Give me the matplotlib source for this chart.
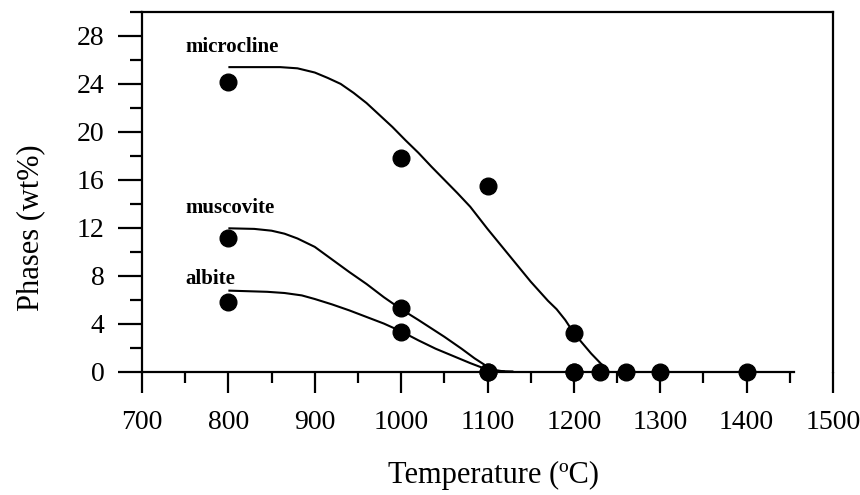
import matplotlib
matplotlib.use("Agg")
import matplotlib.pyplot as plt
from matplotlib.ticker import MultipleLocator

plt.rcParams['font.family'] = ['Liberation Serif', 'DejaVu Serif']

# Measured points
micro_T = [800, 1000, 1100, 1200, 1230, 1260, 1300, 1400]
micro_v = [24.2, 17.8, 15.5, 3.2, 0, 0, 0, 0]
musc_T = [800, 1000, 1100, 1200]
musc_v = [11.1, 5.3, 0, 0]
albite_T = [800, 1000, 1100, 1200]
albite_v = [5.8, 3.3, 0, 0]

# Fitted curves
micro_fit_T = [800, 860, 880, 900, 915, 930, 945, 960, 975, 990, 1005, 1020, 1035,
               1050, 1065, 1080, 1100, 1125, 1150, 1170, 1180, 1190, 1200, 1220, 1240]
micro_fit_v = [25.4, 25.4, 25.3, 24.95, 24.5, 24.0, 23.25, 22.4, 21.4, 20.4, 19.3, 18.25, 17.1,
               16.0, 14.9, 13.75, 11.9, 9.7, 7.5, 5.9, 5.2, 4.3, 3.2, 1.5, 0.0]
musc_fit_T = [800, 830, 850, 865, 880, 900, 920, 940, 960, 980, 1000, 1020, 1035, 1050,
              1070, 1085, 1100, 1110, 1120]
musc_fit_v = [11.95, 11.9, 11.75, 11.5, 11.1, 10.4, 9.35, 8.3, 7.3, 6.2, 5.2, 4.3, 3.6, 2.9,
              1.9, 1.1, 0.4, 0.1, 0.0]
albite_fit_T = [800, 845, 865, 885, 900, 920, 940, 960, 980, 1000, 1020, 1040, 1060, 1080,
                1100, 1115, 1130]
albite_fit_v = [6.75, 6.65, 6.55, 6.35, 6.05, 5.6, 5.1, 4.55, 4.0, 3.35, 2.6, 1.9, 1.3, 0.7,
                0.15, 0.03, 0.0]

labels = ['microcline', 'muscovite', 'albite']
label_y = [26.7, 13.2, 7.3]

fig = plt.figure(figsize=(8.6, 4.95), dpi=100)
ax = fig.add_axes([142/860, 1-371.5/495, 691/860, 359.5/495])

lw = 1.5
for T, v in [(micro_fit_T, micro_fit_v), (musc_fit_T, musc_fit_v), (albite_fit_T, albite_fit_v)]:
    ax.plot(T, v, color='black', lw=lw, solid_capstyle='butt', solid_joinstyle='round', zorder=2)

for T, v in [(micro_T, micro_v), (musc_T, musc_v), (albite_T, albite_v)]:
    ax.plot(T, v, 'o', color='black', ms=12, zorder=3, clip_on=False)

for lab, y in zip(labels, label_y):
    ax.text(750, y, lab, fontsize=15, fontweight='bold', ha='left', va='baseline')

ax.set_xlim(700, 1500)
ax.set_ylim(0, 30)
ax.spines['bottom'].set_bounds(700, 1455)
for s in ax.spines.values():
    s.set_linewidth(1.6)

ax.xaxis.set_major_locator(MultipleLocator(100))
ax.xaxis.set_minor_locator(MultipleLocator(50))
ax.yaxis.set_major_locator(MultipleLocator(4))
ax.yaxis.set_minor_locator(MultipleLocator(2))
ax.set_yticks(range(0, 29, 4))

ax.tick_params(axis='x', which='major', direction='out', length=15, width=1.6, labelsize=20, pad=13)
ax.tick_params(axis='x', which='minor', direction='out', length=8, width=1.6)
ax.tick_params(axis='y', which='major', direction='out', length=17, width=1.6, labelsize=20, pad=10)
ax.tick_params(axis='y', which='minor', direction='out', length=8.5, width=1.6)

ax.set_xlabel('Temperature (ºC)', fontsize=22)
ax.set_ylabel('Phases (wt%)', fontsize=22)
ax.xaxis.set_label_coords(0.509, -0.249)
ax.yaxis.set_label_coords(-0.140, 0.40)

fig.savefig('out.png', dpi=100)
